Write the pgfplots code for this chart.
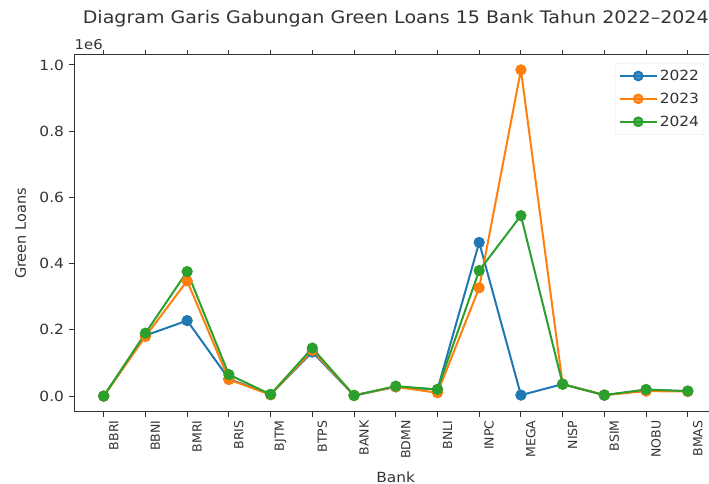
\documentclass[border=0pt]{standalone}
\usepackage{fontspec}
\setmainfont{DejaVu Sans}[FakeStretch=1.1]
\newfontfamily\rotfont{DejaVu Sans}
\usepackage{pgfplots}
\pgfplotsset{compat=1.18}

\definecolor{c2022}{HTML}{1F77B4}
\definecolor{c2023}{HTML}{FF7F0E}
\definecolor{c2024}{HTML}{2CA02C}
\definecolor{txt}{HTML}{333333}

\begin{document}
\begin{tikzpicture}
\begin{axis}[
    name=main,
    scale only axis,
    width=642.5pt, height=357pt,
    xmin=-0.7, xmax=14.7,
    ymin=-48000, ymax=1030000,
    xtick={0,...,14},
    xticklabels={BBRI,BBNI,BMRI,BRIS,BJTM,BTPS,BANK,BDMN,BNLI,INPC,MEGA,NISP,BSIM,NOBU,BMAS},
    x tick label style={rotate=90, anchor=east, font=\rotfont\fontsize{12.5}{14}\selectfont, yshift=-10pt},
    ytick={0,200000,400000,600000,800000,1000000},
    yticklabels={0.0,0.2,0.4,0.6,0.8,1.0},
    y tick label style={font=\fontsize{14}{16}\selectfont, xshift=-2pt},
    scaled y ticks=false,
    tick align=outside,
    major tick length=5pt,
    tick style={txt, line width=1pt},
    axis line style={txt, line width=1pt},
    ticklabel style={text=txt},
    xlabel={Bank},
    xlabel style={font=\fontsize{14}{16}\selectfont, text=txt, at={(0.5,0)}, anchor=base, yshift=-70pt},
    ylabel={Green Loans},
    ylabel style={font=\rotfont\fontsize{14.5}{17}\selectfont, text=txt,
        at={([xshift=-54pt]axis description cs:0,0.5)}, anchor=center},
    title={Diagram Garis Gabungan Green Loans 15 Bank Tahun 2022–2024},
    title style={font=\fontsize{17.3}{20}\selectfont, text=txt, at={(0.5,1)}, anchor=base, yshift=25pt},
    /pgf/number format/assume math mode=true,
    every axis plot/.append style={line width=2pt, mark=*, mark size=4.6pt},
    legend style={at={(rel axis cs:0.98,0.978)}, anchor=north east,
        draw=black!12, rounded corners=2pt, fill=white, fill opacity=0.8, text opacity=1,
        font=\fontsize{14}{16}\selectfont, text=txt, row sep=7pt,
        inner xsep=3pt, inner ysep=5pt},
    legend cell align=left,
    legend image code/.code={
        \draw[#1, line width=2pt] (0pt,0pt) -- (37pt,0pt);
        \fill[#1] (18.5pt,0pt) circle (4.3pt);
    },
    extra description/.code={
        \node[anchor=base west, font=\fontsize{13.5}{15}\selectfont, text=txt, inner sep=0pt]
            at ([yshift=5pt]rel axis cs:0,1) {1e6};
    },
]
\addplot[c2022, mark options={fill=c2022}] coordinates {
(0,0) (1,183000) (2,228000) (3,52000) (4,5000) (5,133000) (6,2000) (7,28000)
(8,20000) (9,464000) (10,3000) (11,36000) (12,3000) (13,18000) (14,15000)};
\addlegendentry{2022}
\addplot[c2023, mark options={fill=c2023}] coordinates {
(0,0) (1,180000) (2,348000) (3,50000) (4,4000) (5,138000) (6,2000) (7,28000)
(8,10000) (9,327000) (10,985000) (11,36000) (12,3000) (13,15000) (14,14000)};
\addlegendentry{2023}
\addplot[c2024, mark options={fill=c2024}] coordinates {
(0,0) (1,190000) (2,376000) (3,65000) (4,5000) (5,145000) (6,2000) (7,30000)
(8,20000) (9,379000) (10,545000) (11,36000) (12,3000) (13,20000) (14,15000)};
\addlegendentry{2024}
\end{axis}
\pgfresetboundingbox
\path ([xshift=-74.5pt,yshift=-72pt]main.south west) rectangle ([xshift=-8pt,yshift=55pt]main.north east);
\end{tikzpicture}
\end{document}
